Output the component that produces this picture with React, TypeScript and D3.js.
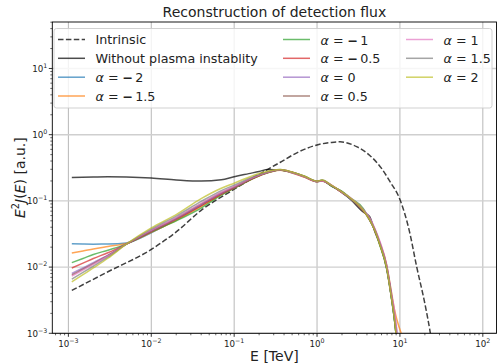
import React from 'react';
import * as d3 from 'd3';

// energies (TeV) shared by the alpha runs
const energy = [0.0011, 0.0015, 0.002, 0.003, 0.005, 0.01, 0.02, 0.04, 0.07, 0.1, 0.2, 0.36, 0.5, 0.7, 1.0, 1.15, 1.5, 2.0, 2.5, 3.6, 4.3, 5.0, 5.7, 6.9, 7.9, 8.65, 9.2, 10.5];

const alphaLabels = ['−2', '−1.5', '−1', '−0.5', '0', '0.5', '1', '1.5', '2'];
const alphaColors = ['#1f77b4', '#ff7f0e', '#2ca02c', '#d62728', '#9467bd', '#8c564b', '#e377c2', '#7f7f7f', '#bcbd22'];

const fluxM20 = [0.0225, 0.0223, 0.0222, 0.0223, 0.0232, 0.033, 0.052, 0.085, 0.128, 0.158, 0.24, 0.292, 0.266, 0.232, 0.196, 0.201, 0.168, 0.137, 0.108, 0.074, 0.052, 0.035, 0.023, 0.0100, 0.0035, 0.0015, 0.0008, 0.0001];
const fluxM15 = [0.0163, 0.0175, 0.0188, 0.0205, 0.0228, 0.0335, 0.051, 0.082, 0.125, 0.156, 0.238, 0.29, 0.264, 0.229, 0.195, 0.2, 0.171, 0.134, 0.111, 0.072, 0.054, 0.037, 0.024, 0.0110, 0.0042, 0.0022, 0.0016, 0.00095];
const fluxM10 = [0.0117, 0.0135, 0.0155, 0.018, 0.0222, 0.034, 0.050, 0.078, 0.122, 0.155, 0.24, 0.294, 0.268, 0.236, 0.198, 0.205, 0.166, 0.139, 0.112, 0.077, 0.052, 0.036, 0.022, 0.0098, 0.0035, 0.0015, 0.0007, 0.0001];
const fluxM05 = [0.0097, 0.0115, 0.0135, 0.0165, 0.0222, 0.0345, 0.053, 0.085, 0.127, 0.158, 0.242, 0.296, 0.27, 0.233, 0.197, 0.202, 0.17, 0.133, 0.109, 0.071, 0.053, 0.035, 0.023, 0.0104, 0.0037, 0.0017, 0.0008, 0.0001];
const fluxP00 = [0.0080, 0.0097, 0.0117, 0.0152, 0.0222, 0.035, 0.054, 0.088, 0.13, 0.16, 0.243, 0.295, 0.272, 0.235, 0.198, 0.203, 0.172, 0.134, 0.11, 0.075, 0.055, 0.037, 0.024, 0.0108, 0.0040, 0.0019, 0.0011, 0.0003];
const fluxP05 = [0.0076, 0.0093, 0.0113, 0.0149, 0.0222, 0.0355, 0.055, 0.09, 0.133, 0.162, 0.244, 0.294, 0.269, 0.232, 0.199, 0.204, 0.169, 0.138, 0.11, 0.073, 0.051, 0.036, 0.023, 0.0101, 0.0036, 0.0016, 0.0008, 0.0001];
const fluxP10 = [0.0073, 0.0090, 0.011, 0.0147, 0.0222, 0.036, 0.056, 0.092, 0.135, 0.165, 0.245, 0.295, 0.266, 0.231, 0.196, 0.2, 0.173, 0.135, 0.113, 0.074, 0.056, 0.038, 0.025, 0.0108, 0.0038, 0.0021, 0.0009, 0.0001];
const fluxP15 = [0.0066, 0.0083, 0.0103, 0.0141, 0.0222, 0.0375, 0.059, 0.098, 0.143, 0.173, 0.25, 0.297, 0.271, 0.236, 0.197, 0.206, 0.17, 0.136, 0.109, 0.072, 0.053, 0.036, 0.023, 0.0100, 0.0035, 0.0015, 0.0007, 0.0001];
const fluxP20 = [0.0060, 0.0077, 0.0097, 0.0136, 0.0222, 0.039, 0.062, 0.108, 0.155, 0.185, 0.26, 0.298, 0.273, 0.238, 0.199, 0.206, 0.172, 0.137, 0.111, 0.073, 0.052, 0.035, 0.022, 0.0097, 0.0034, 0.0015, 0.0007, 0.0001];

const alphaFlux = [fluxM20, fluxM15, fluxM10, fluxM05, fluxP00, fluxP05, fluxP10, fluxP15, fluxP20];

const intrinsicE = [0.0011, 0.003, 0.01, 0.02, 0.04, 0.1, 0.255, 0.356, 0.6, 1.0, 1.5, 1.9, 3.0, 4.3, 6.0, 7.6, 10, 13, 15.9, 20, 23.3, 30];
const intrinsicFlux = [0.00444, 0.0085, 0.0185, 0.034, 0.072, 0.15, 0.30, 0.38, 0.55, 0.70, 0.765, 0.78, 0.66, 0.49, 0.31, 0.195, 0.105, 0.035, 0.0102, 0.0028, 0.001, 0.0001];

const withoutE = [0.0011, 0.002, 0.003, 0.005, 0.01, 0.02, 0.04, 0.07, 0.1, 0.15, 0.2, 0.255, 0.36, 0.5, 0.7, 1.0, 1.15, 1.5, 2.0, 2.5, 3.6, 4.3, 5.0, 5.7, 6.9, 7.9, 8.65, 9.2];
const withoutFlux = [0.225, 0.229, 0.231, 0.229, 0.221, 0.207, 0.199, 0.208, 0.232, 0.258, 0.278, 0.298, 0.294, 0.27, 0.234, 0.195, 0.2, 0.169, 0.133, 0.107, 0.068, 0.058, 0.034, 0.022, 0.0095, 0.0034, 0.0015, 0.0007];

const xTickExps = [-3, -2, -1, 0, 1, 2];
const yTickExps = [-3, -2, -1, 0, 1];

const W = 497;
const H = 363;
const plot = { left: 52.3, right: 496.5, top: 22, bottom: 333.3 };
const FONT = 'DejaVu Sans, sans-serif';

const Pow = ({ x, y, exp, anchor }: { x: number; y: number; exp: number; anchor: string }) => (
  <text x={x} y={y} textAnchor={anchor} fontSize={8.7} fill="#222" fontFamily={FONT}>
    10<tspan dy={-4} fontSize={6.3}>{exp < 0 ? `−${-exp}` : exp}</tspan>
  </text>
);

const AlphaLabel = ({ x, y, value }: { x: number; y: number; value: string }) => {
  const neg = value.startsWith('−');
  return (
    <text x={x} y={y} fontSize={12.7} fill="#222" fontFamily={FONT} dominantBaseline="central">
      <tspan fontStyle="italic">α</tspan>
      <tspan> = </tspan>
      {neg ? <tspan fontWeight="bold">−</tspan> : null}
      <tspan dx={neg ? 2 : 0}>{neg ? value.slice(1) : value}</tspan>
    </text>
  );
};

export default function App() {
  const x = d3.scaleLog().domain([Math.pow(10, -3.194), Math.pow(10, 2.165)]).range([plot.left, plot.right]);
  const y = d3.scaleLog().domain([1e-3, Math.pow(10, 1.702)]).range([plot.bottom, plot.top]);

  const line = d3
    .line<[number, number]>()
    .x((d) => x(d[0]))
    .y((d) => y(d[1]))
    .curve(d3.curveMonotoneX);

  const zip = (es: number[], vs: number[]) => es.map((e, i) => [e, vs[i]] as [number, number]);

  const xMinor: number[] = [];
  for (let p = -4; p <= 2; p++) for (let m = 2; m <= 9; m++) {
    const v = m * Math.pow(10, p);
    if (x(v) >= plot.left && x(v) <= plot.right) xMinor.push(v);
  }
  const yMinor: number[] = [];
  for (let p = -3; p <= 1; p++) for (let m = 2; m <= 9; m++) {
    const v = m * Math.pow(10, p);
    if (y(v) >= plot.top && y(v) <= plot.bottom) yMinor.push(v);
  }

  // legend layout
  const legendCols = [58, 283, 406];
  const legendRows = [39.5, 58.3, 77.2, 96];
  const alphaSlots = alphaLabels.map((_, i) => {
    const slot = i + 2;
    return { col: Math.floor(slot / 4), row: slot % 4 };
  });

  return (
    <svg width={W} height={H} style={{ position: 'absolute', left: 0, top: 0, background: '#fff' }}>
      <defs>
        <clipPath id="plotClip">
          <rect x={plot.left} y={plot.top} width={plot.right - plot.left} height={plot.bottom - plot.top} />
        </clipPath>
      </defs>

      {/* grid */}
      {xTickExps.map((e) => (
        <line key={'gx' + e} x1={x(Math.pow(10, e))} x2={x(Math.pow(10, e))} y1={plot.top} y2={plot.bottom} stroke="#b0b0b0" strokeWidth={0.9} />
      ))}
      {yTickExps.map((e) => (
        <line key={'gy' + e} x1={plot.left} x2={plot.right} y1={y(Math.pow(10, e))} y2={y(Math.pow(10, e))} stroke="#cfcfcf" strokeWidth={1.4} />
      ))}

      {/* curves */}
      <g clipPath="url(#plotClip)" fill="none">
        <path d={line(zip(intrinsicE, intrinsicFlux)) || ''} stroke="#000" strokeOpacity={0.75} strokeWidth={1.5} strokeDasharray="5.5,2.4" />
        <path d={line(zip(withoutE, withoutFlux)) || ''} stroke="#000" strokeOpacity={0.7} strokeWidth={1.5} />
        {alphaFlux.map((vals, i) => (
          <path key={i} d={line(zip(energy, vals)) || ''} stroke={alphaColors[i]} strokeOpacity={0.7} strokeWidth={1.5} />
        ))}
      </g>

      {/* frame */}
      <rect x={plot.left} y={plot.top} width={plot.right - plot.left} height={plot.bottom - plot.top} fill="none" stroke="#000" strokeWidth={0.9} />

      {/* x ticks */}
      {xTickExps.map((e) => (
        <g key={'tx' + e}>
          <line x1={x(Math.pow(10, e))} x2={x(Math.pow(10, e))} y1={plot.bottom} y2={plot.bottom + 3.5} stroke="#000" strokeWidth={0.8} />
          <Pow x={x(Math.pow(10, e))} y={plot.bottom + 14} exp={e} anchor="middle" />
        </g>
      ))}
      {xMinor.map((v) => (
        <line key={'mx' + v} x1={x(v)} x2={x(v)} y1={plot.bottom} y2={plot.bottom + 2} stroke="#000" strokeWidth={0.6} />
      ))}

      {/* y ticks */}
      {yTickExps.map((e) => (
        <g key={'ty' + e}>
          <line x1={plot.left - 3.5} x2={plot.left} y1={y(Math.pow(10, e))} y2={y(Math.pow(10, e))} stroke="#000" strokeWidth={0.8} />
          <Pow x={plot.left - 5} y={y(Math.pow(10, e)) + 3.2} exp={e} anchor="end" />
        </g>
      ))}
      {yMinor.map((v) => (
        <line key={'my' + v} x1={plot.left - 2} x2={plot.left} y1={y(v)} y2={y(v)} stroke="#000" strokeWidth={0.6} />
      ))}

      {/* legend */}
      <rect x={54} y={28.5} width={438} height={79.5} rx={2.5} fill="#fff" fillOpacity={0.8} stroke="#cccccc" strokeWidth={0.9} />
      <line x1={legendCols[0]} x2={legendCols[0] + 27} y1={legendRows[0]} y2={legendRows[0]} stroke="#000" strokeOpacity={0.75} strokeWidth={1.5} strokeDasharray="5.5,2.4" />
      <text x={legendCols[0] + 37.5} y={legendRows[0]} fontSize={12.7} fill="#222" fontFamily={FONT} dominantBaseline="central">Intrinsic</text>
      <line x1={legendCols[0]} x2={legendCols[0] + 27} y1={legendRows[1]} y2={legendRows[1]} stroke="#000" strokeOpacity={0.7} strokeWidth={1.5} />
      <text x={legendCols[0] + 37.5} y={legendRows[1]} fontSize={12.7} fill="#222" fontFamily={FONT} dominantBaseline="central">Without plasma instablity</text>
      {alphaLabels.map((lab, i) => {
        const { col, row } = alphaSlots[i];
        const lx = legendCols[col];
        const ly = legendRows[row];
        return (
          <g key={'lg' + i}>
            <line x1={lx} x2={lx + 27} y1={ly} y2={ly} stroke={alphaColors[i]} strokeOpacity={0.7} strokeWidth={1.5} />
            <AlphaLabel x={lx + 37.5} y={ly} value={lab} />
          </g>
        );
      })}

      {/* titles */}
      <text x={(plot.left + plot.right) / 2} y={17} textAnchor="middle" fontSize={14} fill="#222" fontFamily={FONT}>
        Reconstruction of detection flux
      </text>
      <text x={(plot.left + plot.right) / 2} y={361} textAnchor="middle" fontSize={14} fill="#222" fontFamily={FONT}>
        E [TeV]
      </text>
      <text transform={`translate(25, ${(plot.top + plot.bottom) / 2}) rotate(-90)`} textAnchor="middle" fontSize={14} fill="#222" fontFamily={FONT}>
        <tspan fontStyle="italic">E</tspan>
        <tspan dy={-6} fontSize={9.8}>2</tspan>
        <tspan dy={6} fontStyle="italic">J</tspan>
        <tspan>(</tspan>
        <tspan fontStyle="italic">E</tspan>
        <tspan>) [a.u.]</tspan>
      </text>
    </svg>
  );
}
